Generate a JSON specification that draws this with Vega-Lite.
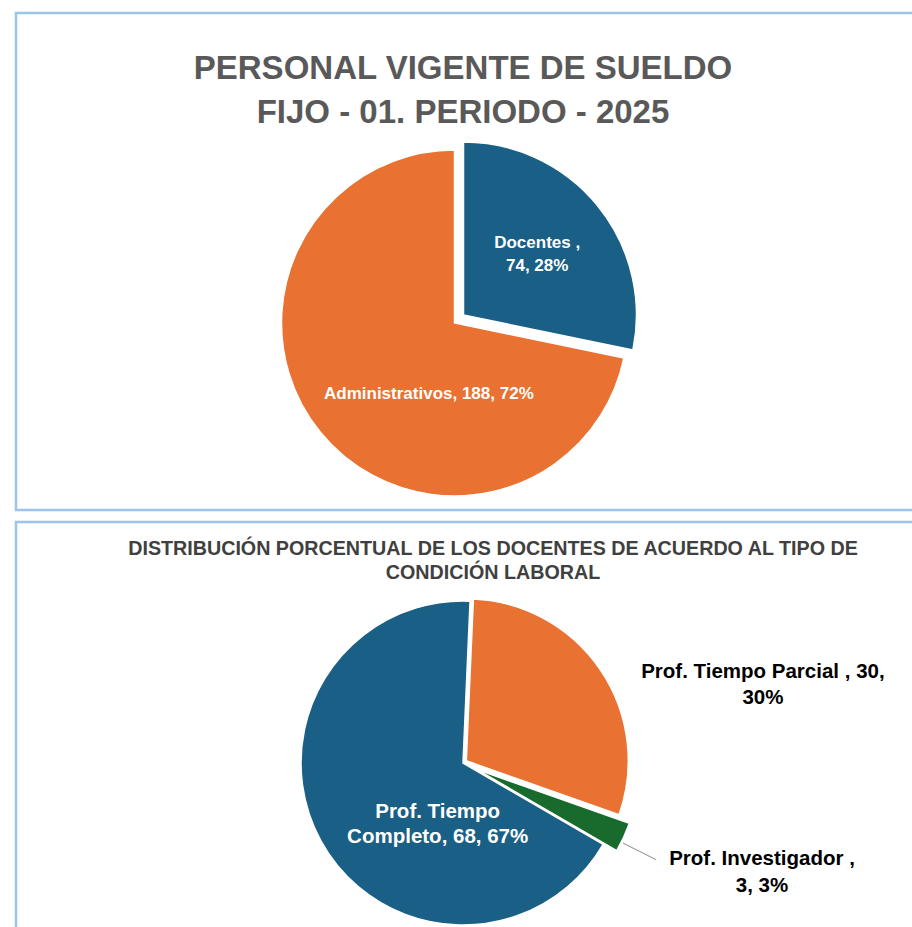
{
  "$schema": "https://vega.github.io/schema/vega-lite/v6.json",
  "padding": {"left": 14, "top": 11, "right": 0, "bottom": 0},
  "spacing": 8,
  "background": "white",
  "config": {"view": {"stroke": "#9dc3e6", "strokeWidth": 2.5}, "font": "Liberation Sans"},
  "resolve": {"scale": {"theta": "independent", "color": "independent"}},
  "vconcat": [
    {
      "width": 907,
      "height": 497,
      "view": {"stroke": "#9dc3e6", "strokeWidth": 2.5, "fill": "white"},
      "title": {
        "text": ["PERSONAL VIGENTE DE SUELDO", "FIJO - 01. PERIODO - 2025"],
        "font": "Liberation Sans", "fontSize": 33, "fontWeight": "bold", "color": "#595959",
        "anchor": "middle", "frame": "group", "offset": -116.5, "baseline": "top", "lineHeight": 43.5, "dx": -6.5
      },
      "data": {"values": [
        {"categoria": "Docentes", "valor": 74, "orden": 1, "etiqueta": "Docentes ,\n74, 28%"},
        {"categoria": "Administrativos", "valor": 188, "orden": 2, "etiqueta": "Administrativos, 188, 72%"}
      ]},
      "encoding": {
        "theta": {"field": "valor", "type": "quantitative", "stack": true},
        "order": {"field": "orden", "type": "quantitative"}
      },
      "layer": [
        {
          "mark": {"type": "arc", "outerRadius": 173, "stroke": "white", "strokeWidth": 1.5, "xOffset": -15, "yOffset": 61.5},
          "encoding": {
            "color": {"field": "categoria", "type": "nominal", "scale": {"domain": ["Docentes", "Administrativos"], "range": ["#1a5f85", "#e97132"]}, "legend": null},
            "opacity": {"condition": {"test": "datum.categoria === 'Administrativos'", "value": 1}, "value": 0}
          }
        },
        {
          "mark": {"type": "arc", "outerRadius": 173, "stroke": "white", "strokeWidth": 1.5, "xOffset": -6, "yOffset": 53.5},
          "encoding": {
            "color": {"field": "categoria", "type": "nominal", "scale": {"domain": ["Docentes", "Administrativos"], "range": ["#1a5f85", "#e97132"]}, "legend": null},
            "opacity": {"condition": {"test": "datum.categoria === 'Docentes'", "value": 1}, "value": 0}
          }
        },
        {
          "mark": {"type": "text", "radius": 95, "xOffset": -6, "yOffset": 53.5, "dy": -12.5, "fontSize": 17, "fontWeight": "bold", "color": "white", "lineBreak": "\n", "lineHeight": 23, "align": "center", "baseline": "middle"},
          "encoding": {"text": {"condition": {"test": "datum.categoria === 'Docentes'", "field": "etiqueta"}, "value": ""}}
        },
        {
          "mark": {"type": "text", "radius": 74, "xOffset": -15, "yOffset": 61.5, "dx": 31.75, "dy": 24.75, "fontSize": 17, "fontWeight": "bold", "color": "white", "lineBreak": "\n", "lineHeight": 23, "align": "center", "baseline": "middle"},
          "encoding": {"text": {"condition": {"test": "datum.categoria === 'Administrativos'", "field": "etiqueta"}, "value": ""}}
        }
      ]
    },
    {
      "width": 907,
      "height": 482,
      "view": {"stroke": "#9dc3e6", "strokeWidth": 2.5, "fill": "white"},
      "title": {
        "text": ["DISTRIBUCIÓN PORCENTUAL DE LOS DOCENTES DE ACUERDO AL TIPO DE", "CONDICIÓN LABORAL"],
        "font": "Liberation Sans", "fontSize": 19.7, "fontWeight": "bold", "color": "#404040",
        "anchor": "middle", "frame": "group", "offset": -61, "baseline": "top", "lineHeight": 24, "dx": 23.5
      },
      "data": {"values": [
        {"categoria": "Prof. Tiempo Parcial", "valor": 30, "orden": 1, "etiqueta": "Prof. Tiempo Parcial , 30,\n30%"},
        {"categoria": "Prof. Investigador", "valor": 3, "orden": 2, "etiqueta": "Prof. Investigador ,\n3, 3%"},
        {"categoria": "Prof. Tiempo Completo", "valor": 68, "orden": 3, "etiqueta": "Prof. Tiempo\nCompleto, 68, 67%"}
      ]},
      "encoding": {
        "theta": {"field": "valor", "type": "quantitative", "stack": true, "scale": {"range": [0.0436, 6.3268]}},
        "order": {"field": "orden", "type": "quantitative"}
      },
      "layer": [
        {
          "mark": {"type": "arc", "outerRadius": 162, "stroke": "white", "strokeWidth": 1.5, "xOffset": -6.5, "yOffset": 0},
          "encoding": {
            "color": {"field": "categoria", "type": "nominal", "scale": {"domain": ["Prof. Tiempo Parcial", "Prof. Investigador", "Prof. Tiempo Completo"], "range": ["#e97132", "#196b2d", "#1a5f85"]}, "legend": null},
            "opacity": {"condition": {"test": "datum.categoria === 'Prof. Tiempo Completo'", "value": 1}, "value": 0}
          }
        },
        {
          "mark": {"type": "arc", "outerRadius": 162, "stroke": "white", "strokeWidth": 1.5, "xOffset": -3.2, "yOffset": -2.2},
          "encoding": {
            "color": {"field": "categoria", "type": "nominal", "scale": {"domain": ["Prof. Tiempo Parcial", "Prof. Investigador", "Prof. Tiempo Completo"], "range": ["#e97132", "#196b2d", "#1a5f85"]}, "legend": null},
            "opacity": {"condition": {"test": "datum.categoria === 'Prof. Tiempo Parcial'", "value": 1}, "value": 0}
          }
        },
        {
          "mark": {"type": "arc", "outerRadius": 162, "stroke": "white", "strokeWidth": 1.5, "xOffset": 7.1, "yOffset": 6.3},
          "encoding": {
            "color": {"field": "categoria", "type": "nominal", "scale": {"domain": ["Prof. Tiempo Parcial", "Prof. Investigador", "Prof. Tiempo Completo"], "range": ["#e97132", "#196b2d", "#1a5f85"]}, "legend": null},
            "opacity": {"condition": {"test": "datum.categoria === 'Prof. Investigador'", "value": 1}, "value": 0}
          }
        },
        {
          "transform": [
            {"stack": "valor", "groupby": [], "sort": [{"field": "orden"}], "as": ["v0", "v1"]},
            {"filter": "datum.categoria === 'Prof. Investigador'"}
          ],
          "mark": {"type": "arc", "innerRadius": 164, "outerRadius": 201, "stroke": "#a6a6a6", "strokeWidth": 1, "fillOpacity": 0, "thetaOffset": -0.059, "theta2Offset": -0.059, "xOffset": 7.1, "yOffset": 6.3},
          "encoding": {
            "theta": {"field": "v1", "type": "quantitative"},
            "theta2": {"field": "v1"}
          }
        },
        {
          "mark": {"type": "text", "radius": 60, "xOffset": -6.5, "yOffset": 0, "dx": 27.3, "dy": 20.2, "fontSize": 20.5, "fontWeight": "bold", "color": "white", "lineBreak": "\n", "lineHeight": 25, "align": "center", "baseline": "middle"},
          "encoding": {"text": {"condition": {"test": "datum.categoria === 'Prof. Tiempo Completo'", "field": "etiqueta"}, "value": ""}}
        },
        {
          "mark": {"type": "text", "radius": 220, "xOffset": -3.2, "yOffset": -2.2, "dx": 114.3, "dy": 34.45, "fontSize": 20.5, "fontWeight": "bold", "color": "black", "lineBreak": "\n", "lineHeight": 26, "align": "center", "baseline": "middle"},
          "encoding": {"text": {"condition": {"test": "datum.categoria === 'Prof. Tiempo Parcial'", "field": "etiqueta"}, "value": ""}}
        },
        {
          "mark": {"type": "text", "radius": 250, "xOffset": 7.1, "yOffset": 6.3, "dx": 58.4, "dy": -15.45, "fontSize": 20.5, "fontWeight": "bold", "color": "black", "lineBreak": "\n", "lineHeight": 27, "align": "center", "baseline": "middle"},
          "encoding": {"text": {"condition": {"test": "datum.categoria === 'Prof. Investigador'", "field": "etiqueta"}, "value": ""}}
        }
      ]
    }
  ]
}
